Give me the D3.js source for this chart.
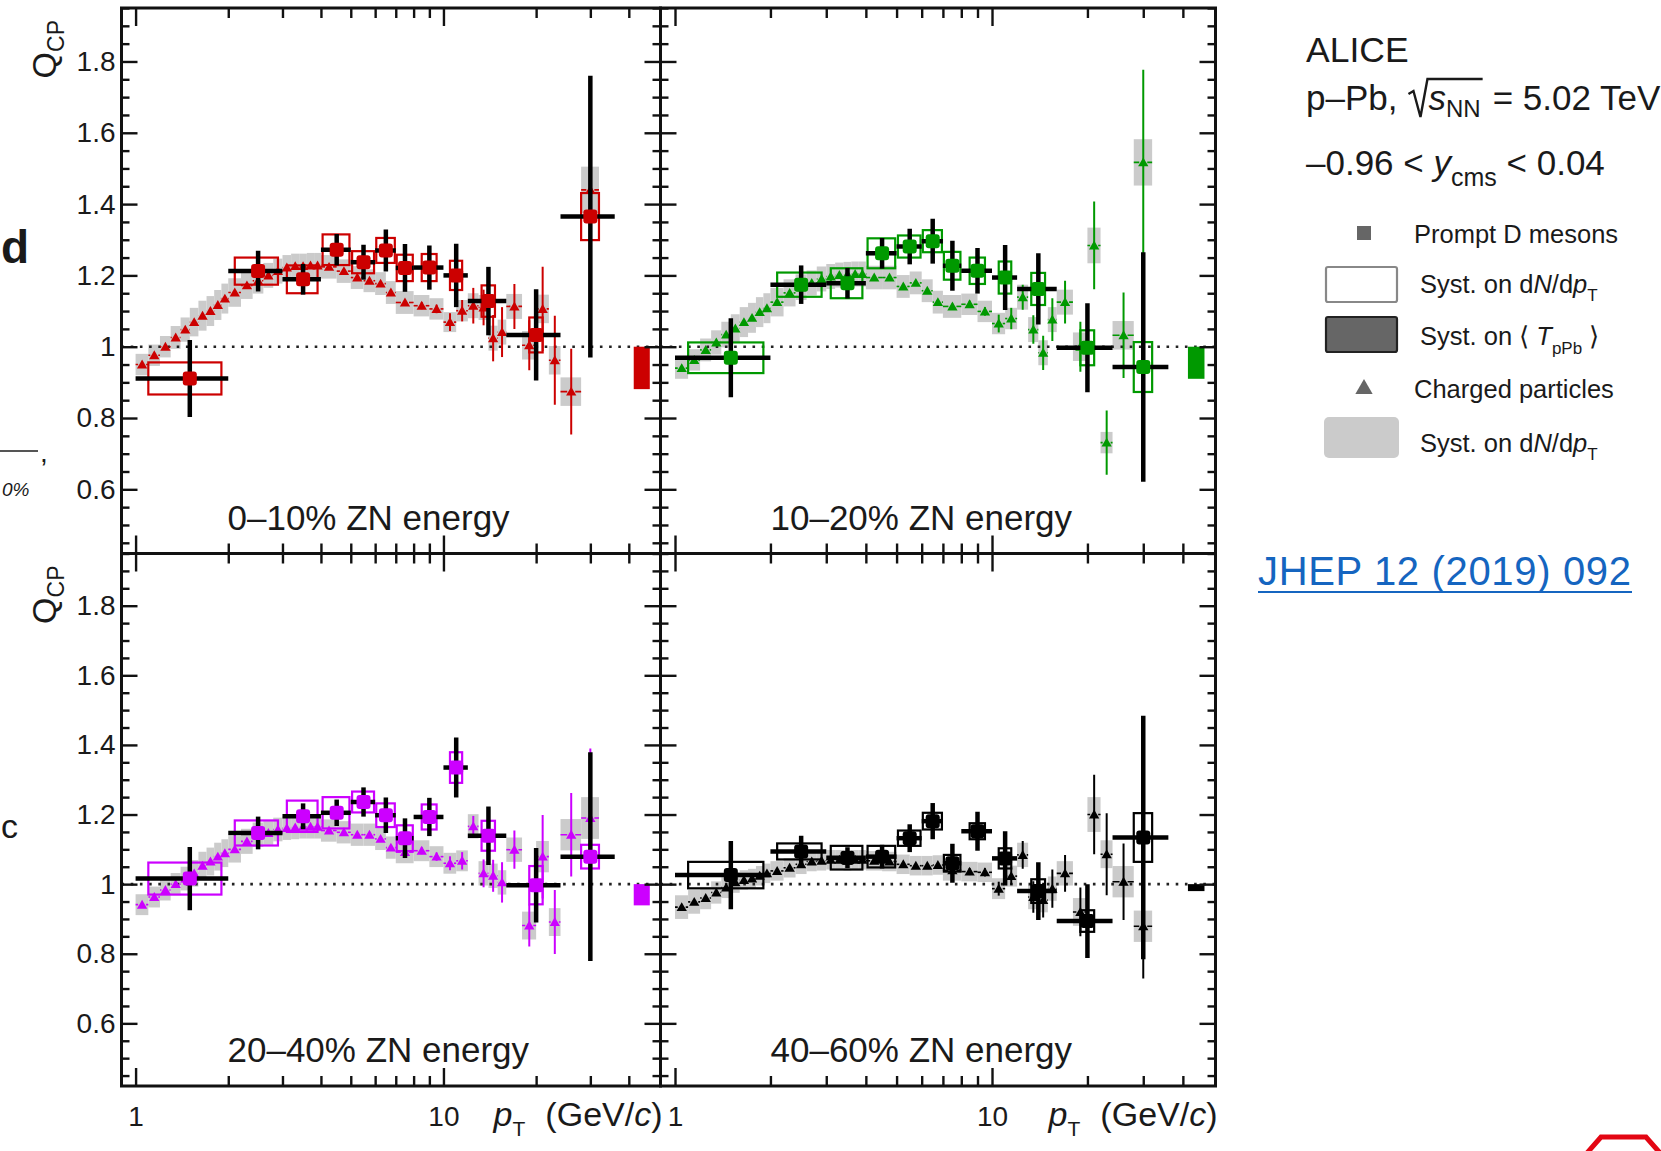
<!DOCTYPE html>
<html>
<head>
<meta charset="utf-8">
<script src="https://cdn.jsdelivr.net/npm/d3@7"></script>
<style>
body { margin: 0; background: #fff; }
svg text { font-family: "Liberation Sans", Arial, Helvetica, sans-serif; fill: #1a1a1a; }
</style>
</head>
<body>
<svg id="chart" width="1661" height="1151"></svg>
<script>
// prompt D meson pT bins (GeV/c)
var dPt   = [1.5, 2.5, 3.5, 4.5, 5.5, 6.5, 7.5, 9, 11, 14, 20, 30];
var dLow  = [1, 2, 3, 4, 5, 6, 7, 8, 10, 12, 16, 24];
var dHigh = [2, 3, 4, 5, 6, 7, 8, 10, 12, 16, 24, 36];
var dBoxHalf = [0.4, 0.4, 0.4, 0.45, 0.45, 0.45, 0.45, 0.5, 0.5, 0.7, 1, 2];

// charged particle pT bins (GeV/c)
var chPt   = [1.05, 1.15, 1.25, 1.35, 1.45, 1.55, 1.65, 1.75, 1.85, 1.95, 2.1, 2.3, 2.5, 2.7, 2.9, 3.1, 3.3, 3.5, 3.7, 3.9,
              4.25, 4.75, 5.25, 5.75, 6.25, 6.75, 7.5, 8.5, 9.5, 10.5, 11.5, 12.5, 13.5, 14.5, 15.5, 17, 19, 21, 23, 26, 30];
var chLow  = [1.0, 1.1, 1.2, 1.3, 1.4, 1.5, 1.6, 1.7, 1.8, 1.9, 2.0, 2.2, 2.4, 2.6, 2.8, 3.0, 3.2, 3.4, 3.6, 3.8,
              4.0, 4.5, 5.0, 5.5, 6.0, 6.5, 7, 8, 9, 10, 11, 12, 13, 14, 15, 16, 18, 20, 22, 24, 28];
var chHigh = [1.1, 1.2, 1.3, 1.4, 1.5, 1.6, 1.7, 1.8, 1.9, 2.0, 2.2, 2.4, 2.6, 2.8, 3.0, 3.2, 3.4, 3.6, 3.8, 4.0,
              4.5, 5.0, 5.5, 6.0, 6.5, 7, 8, 9, 10, 11, 12, 13, 14, 15, 16, 18, 20, 22, 24, 28, 32];

// 0-10%
var d010     = [0.911, 1.212, 1.189, 1.272, 1.237, 1.270, 1.221, 1.222, 1.200, 1.128, 1.033, 1.365];
var d010Stat = [0.108, 0.057, 0.043, 0.044, 0.049, 0.059, 0.067, 0.062, 0.089, 0.096, 0.128, 0.395];
var d010Syst = [0.045, 0.038, 0.039, 0.043, 0.031, 0.035, 0.037, 0.038, 0.041, 0.044, 0.049, 0.066];
var ch010    = [0.950, 0.976, 1.000, 1.026, 1.048, 1.069, 1.087, 1.100, 1.117, 1.135, 1.152, 1.172, 1.185, 1.200, 1.212, 1.222, 1.226, 1.226, 1.228, 1.228,
                1.224, 1.212, 1.194, 1.185, 1.177, 1.152, 1.124, 1.115, 1.106, 1.069, 1.101, 1.115, 1.110, 1.024, 1.041, 1.113, 1.004, 1.106, 0.962, 0.874, 1.440];
var ch010Err = [0.004, 0.004, 0.004, 0.004, 0.004, 0.004, 0.004, 0.004, 0.004, 0.004, 0.004, 0.004, 0.004, 0.004, 0.004, 0.004, 0.004, 0.004, 0.004, 0.004,
                0.006, 0.006, 0.006, 0.006, 0.006, 0.006, 0.008, 0.010, 0.012, 0.025, 0.030, 0.050, 0.050, 0.065, 0.070, 0.063, 0.070, 0.118, 0.125, 0.120, 0.300];
var ch010Syst = [0.030, 0.030, 0.030, 0.032, 0.034, 0.040, 0.042, 0.042, 0.042, 0.042, 0.040, 0.038, 0.036, 0.035, 0.035, 0.035, 0.035, 0.035, 0.035, 0.035,
                 0.033, 0.033, 0.032, 0.032, 0.032, 0.032, 0.032, 0.030, 0.030, 0.028, 0.030, 0.035, 0.035, 0.035, 0.035, 0.035, 0.040, 0.040, 0.040, 0.040, 0.065];

// 10-20%
var d1020     = [0.969, 1.174, 1.178, 1.262, 1.281, 1.296, 1.227, 1.213, 1.194, 1.162, 0.997, 0.943];
var d1020Stat = [0.111, 0.054, 0.043, 0.043, 0.050, 0.063, 0.070, 0.064, 0.091, 0.100, 0.125, 0.322];
var d1020Syst = [0.043, 0.034, 0.042, 0.042, 0.031, 0.031, 0.039, 0.037, 0.045, 0.045, 0.049, 0.070];
var ch1020    = [0.940, 0.963, 0.991, 1.012, 1.034, 1.051, 1.069, 1.081, 1.097, 1.108, 1.125, 1.151, 1.167, 1.179, 1.190, 1.197, 1.201, 1.203, 1.204, 1.204,
                 1.194, 1.194, 1.169, 1.179, 1.157, 1.125, 1.113, 1.119, 1.099, 1.065, 1.079, 1.139, 1.048, 0.983, 1.076, 1.125, 1.000, 1.284, 0.731, 1.032, 1.517];
var ch1020Err = [0.004, 0.004, 0.004, 0.004, 0.004, 0.004, 0.004, 0.004, 0.004, 0.004, 0.004, 0.004, 0.004, 0.004, 0.004, 0.004, 0.004, 0.004, 0.004, 0.004,
                 0.006, 0.006, 0.006, 0.006, 0.006, 0.006, 0.008, 0.010, 0.012, 0.025, 0.030, 0.035, 0.040, 0.048, 0.060, 0.060, 0.070, 0.123, 0.090, 0.120, 0.260];
var ch1020Syst = [0.030, 0.030, 0.032, 0.034, 0.036, 0.040, 0.042, 0.042, 0.042, 0.042, 0.040, 0.038, 0.036, 0.035, 0.035, 0.035, 0.035, 0.035, 0.035, 0.035,
                  0.033, 0.033, 0.032, 0.032, 0.032, 0.032, 0.032, 0.030, 0.030, 0.030, 0.030, 0.035, 0.035, 0.035, 0.035, 0.035, 0.040, 0.050, 0.030, 0.040, 0.065];

// 20-40%
var d2040     = [1.016, 1.147, 1.195, 1.205, 1.236, 1.198, 1.132, 1.193, 1.335, 1.139, 0.997, 1.079];
var d2040Stat = [0.091, 0.047, 0.037, 0.038, 0.042, 0.051, 0.057, 0.055, 0.086, 0.084, 0.107, 0.300];
var d2040Syst = [0.046, 0.036, 0.045, 0.045, 0.030, 0.034, 0.037, 0.036, 0.044, 0.043, 0.055, 0.034];
var ch2040    = [0.941, 0.963, 0.983, 1.000, 1.016, 1.031, 1.053, 1.065, 1.079, 1.089, 1.100, 1.123, 1.142, 1.147, 1.157, 1.161, 1.163, 1.165, 1.165, 1.165,
                 1.154, 1.149, 1.142, 1.142, 1.130, 1.105, 1.092, 1.096, 1.079, 1.060, 1.067, 1.166, 1.031, 1.024, 1.005, 1.099, 0.881, 1.079, 0.891, 1.142, 1.190];
var ch2040Err = [0.004, 0.004, 0.004, 0.004, 0.004, 0.004, 0.004, 0.004, 0.004, 0.004, 0.004, 0.004, 0.004, 0.004, 0.004, 0.004, 0.004, 0.004, 0.004, 0.004,
                 0.006, 0.006, 0.006, 0.006, 0.006, 0.006, 0.008, 0.010, 0.012, 0.020, 0.025, 0.030, 0.040, 0.046, 0.058, 0.055, 0.060, 0.120, 0.092, 0.120, 0.200];
var ch2040Syst = [0.030, 0.030, 0.030, 0.032, 0.034, 0.038, 0.040, 0.040, 0.040, 0.040, 0.038, 0.036, 0.035, 0.034, 0.034, 0.034, 0.034, 0.034, 0.034, 0.034,
                  0.032, 0.032, 0.032, 0.032, 0.032, 0.032, 0.032, 0.030, 0.030, 0.030, 0.030, 0.035, 0.035, 0.035, 0.035, 0.035, 0.040, 0.045, 0.040, 0.045, 0.060];

// 40-60%
var d4060     = [1.026, 1.094, 1.076, 1.079, 1.132, 1.181, 1.060, 1.152, 1.074, 0.980, 0.894, 1.134];
var d4060Stat = [0.098, 0.045, 0.030, 0.034, 0.040, 0.052, 0.056, 0.056, 0.078, 0.083, 0.106, 0.350];
var d4060Syst = [0.038, 0.023, 0.034, 0.031, 0.022, 0.024, 0.024, 0.023, 0.029, 0.034, 0.031, 0.070];
var ch4060    = [0.934, 0.949, 0.960, 0.976, 0.990, 1.005, 1.012, 1.016, 1.024, 1.031, 1.038, 1.047, 1.057, 1.065, 1.067, 1.070, 1.070, 1.067, 1.070, 1.070,
                 1.067, 1.065, 1.057, 1.053, 1.053, 1.055, 1.040, 1.036, 1.034, 0.987, 1.023, 1.084, 0.963, 0.954, 0.987, 1.031, 0.920, 1.200, 1.086, 1.007, 0.879];
var ch4060Err = [0.004, 0.004, 0.004, 0.004, 0.004, 0.004, 0.004, 0.004, 0.004, 0.004, 0.004, 0.004, 0.004, 0.004, 0.004, 0.004, 0.004, 0.004, 0.004, 0.004,
                 0.006, 0.006, 0.006, 0.006, 0.006, 0.006, 0.008, 0.010, 0.012, 0.020, 0.025, 0.040, 0.045, 0.050, 0.055, 0.053, 0.070, 0.114, 0.118, 0.110, 0.150];
var ch4060Syst = [0.034, 0.034, 0.032, 0.032, 0.030, 0.030, 0.028, 0.028, 0.028, 0.028, 0.028, 0.028, 0.028, 0.028, 0.028, 0.028, 0.028, 0.028, 0.028, 0.028,
                  0.028, 0.028, 0.028, 0.028, 0.028, 0.028, 0.030, 0.028, 0.028, 0.030, 0.030, 0.035, 0.035, 0.035, 0.035, 0.035, 0.040, 0.050, 0.040, 0.045, 0.045];

// normalisation (<T_pPb>) uncertainty boxes, one per panel
var normLow  = [0.881, 0.910, 0.939, 0.980];
var normHigh = [1.0, 1.0, 1.0, 1.0];

var panelLabels = ["0–10% ZN energy", "10–20% ZN energy", "20–40% ZN energy", "40–60% ZN energy"];
var panelColors = ["#cc0000", "#009900", "#cc00ff", "#000000"];

var yMajor = [0.6, 0.8, 1.0, 1.2, 1.4, 1.6, 1.8];
var xMajor = [1, 10];
var xMinor = [2, 3, 4, 5, 6, 7, 8, 9, 20, 30, 40];

var panels = [
  {col: 0, row: 0, d: d010, dStat: d010Stat, dSyst: d010Syst, ch: ch010, chErr: ch010Err, chSyst: ch010Syst},
  {col: 1, row: 0, d: d1020, dStat: d1020Stat, dSyst: d1020Syst, ch: ch1020, chErr: ch1020Err, chSyst: ch1020Syst},
  {col: 0, row: 1, d: d2040, dStat: d2040Stat, dSyst: d2040Syst, ch: ch2040, chErr: ch2040Err, chSyst: ch2040Syst},
  {col: 1, row: 1, d: d4060, dStat: d4060Stat, dSyst: d4060Syst, ch: ch4060, chErr: ch4060Err, chSyst: ch4060Syst}
];
panels.forEach(function(p, i){
  p.label = panelLabels[i]; p.color = panelColors[i];
  p.normLo = normLow[i]; p.normHi = normHigh[i];
});

var svg = d3.select("#chart");
var colX = [121.5, 660.5, 1215.5];
var rowY = [8, 553.5, 1086];
var xDomain = [0.9, 50.7], yDomain = [0.42, 1.95];
var normX = [41.5, 46.8];
var yMinor = d3.range(9, 40).map(function(i){ return i * 0.05; })
  .filter(function(v){ return Math.abs(v * 5 - Math.round(v * 5)) > 1e-6; });

function fmtY(v){ return Math.abs(v - 1) < 1e-9 ? "1" : d3.format(".1f")(v); }

function styleAxis(a){
  a.select(".domain").remove();
  a.selectAll(".tick line").attr("stroke", "#111").attr("stroke-width", 2.4);
  a.selectAll(".tick text").attr("font-size", 28).attr("fill", "#1a1a1a");
  a.attr("font-family", null);
}

var drawPanel = function(p){
  var x0 = colX[p.col], w = colX[p.col + 1] - x0;
  var y0 = rowY[p.row], h = rowY[p.row + 1] - y0;
  var x = d3.scaleLog().domain(xDomain).range([0, w]);
  var y = d3.scaleLinear().domain(yDomain).range([h, 0]);

  var g = svg.append("g").attr("transform", "translate(" + x0 + "," + y0 + ")");
  var clipId = "clip" + p.col + p.row;
  g.append("clipPath").attr("id", clipId).append("rect").attr("width", w).attr("height", h);
  var plot = g.append("g").attr("clip-path", "url(#" + clipId + ")");

  var ch = chPt.map(function(v, i){
    return {pt: v, lo: chLow[i], hi: chHigh[i], val: p.ch[i], err: p.chErr[i], syst: p.chSyst[i]};
  });
  var dm = dPt.map(function(v, i){
    return {pt: v, lo: dLow[i], hi: dHigh[i], half: dBoxHalf[i], val: p.d[i], stat: p.dStat[i], syst: p.dSyst[i]};
  });

  // grey syst bands of charged particles
  plot.selectAll(".chsyst").data(ch).enter().append("rect")
    .attr("x", function(d){ return x(d.lo); })
    .attr("width", function(d){ return x(d.hi) - x(d.lo); })
    .attr("y", function(d){ return y(d.val + d.syst); })
    .attr("height", function(d){ return y(d.val - d.syst) - y(d.val + d.syst); })
    .attr("fill", "#cbcbcb");

  // Q_CP = 1
  plot.append("line").attr("x1", 0).attr("x2", w).attr("y1", y(1)).attr("y2", y(1))
    .attr("stroke", "#222").attr("stroke-width", 2.6).attr("stroke-dasharray", "2.6,6.6");

  // normalisation box
  plot.append("rect")
    .attr("x", x(normX[0])).attr("width", x(normX[1]) - x(normX[0]))
    .attr("y", y(p.normHi)).attr("height", y(p.normLo) - y(p.normHi))
    .attr("fill", p.color);

  // D meson syst boxes
  plot.selectAll(".dsyst").data(dm).enter().append("rect")
    .attr("x", function(d){ return x(d.pt - d.half); })
    .attr("width", function(d){ return x(d.pt + d.half) - x(d.pt - d.half); })
    .attr("y", function(d){ return y(d.val + d.syst); })
    .attr("height", function(d){ return y(d.val - d.syst) - y(d.val + d.syst); })
    .attr("fill", "none").attr("stroke", p.color).attr("stroke-width", 2.2);

  // charged particles: bin width bars, stat errors, triangles
  var chg = plot.selectAll(".ch").data(ch).enter().append("g");
  chg.append("line")
    .attr("x1", function(d){ return x(d.lo); }).attr("x2", function(d){ return x(d.pt) - 4; })
    .attr("y1", function(d){ return y(d.val); }).attr("y2", function(d){ return y(d.val); })
    .attr("stroke", p.color).attr("stroke-width", 1.6);
  chg.append("line")
    .attr("x1", function(d){ return x(d.pt) + 4; }).attr("x2", function(d){ return x(d.hi); })
    .attr("y1", function(d){ return y(d.val); }).attr("y2", function(d){ return y(d.val); })
    .attr("stroke", p.color).attr("stroke-width", 1.6);
  chg.append("line")
    .attr("x1", function(d){ return x(d.pt); }).attr("x2", function(d){ return x(d.pt); })
    .attr("y1", function(d){ return y(d.val + d.err); }).attr("y2", function(d){ return y(d.val - d.err); })
    .attr("stroke", p.color).attr("stroke-width", 2);
  chg.append("path")
    .attr("d", d3.symbol(d3.symbolTriangle).size(46))
    .attr("transform", function(d){ return "translate(" + x(d.pt) + "," + (y(d.val) + 1) + ")"; })
    .attr("fill", p.color);

  // D meson stat errors (black crosses)
  var dg = plot.selectAll(".dm").data(dm).enter().append("g");
  dg.append("line")
    .attr("x1", function(d){ return x(d.lo); }).attr("x2", function(d){ return x(d.hi); })
    .attr("y1", function(d){ return y(d.val); }).attr("y2", function(d){ return y(d.val); })
    .attr("stroke", "#000").attr("stroke-width", 4.5);
  dg.append("line")
    .attr("x1", function(d){ return x(d.pt); }).attr("x2", function(d){ return x(d.pt); })
    .attr("y1", function(d){ return y(d.val + d.stat); }).attr("y2", function(d){ return y(d.val - d.stat); })
    .attr("stroke", "#000").attr("stroke-width", 4.5);
  dg.append("rect")
    .attr("x", function(d){ return x(d.pt) - 7; }).attr("y", function(d){ return y(d.val) - 7; })
    .attr("width", 14).attr("height", 14).attr("rx", 3)
    .attr("fill", p.color);

  // axes, ticks pointing inside on all four sides
  var left = g.append("g").call(d3.axisLeft(y).tickValues(yMajor).tickSize(-16).tickPadding(6)
    .tickFormat(p.col === 0 ? fmtY : ""));
  styleAxis(left);
  styleAxis(g.append("g").call(d3.axisLeft(y).tickValues(yMinor).tickSize(-8).tickFormat("")));
  styleAxis(g.append("g").attr("transform", "translate(" + w + ",0)")
    .call(d3.axisRight(y).tickValues(yMajor).tickSize(-16).tickFormat("")));
  styleAxis(g.append("g").attr("transform", "translate(" + w + ",0)")
    .call(d3.axisRight(y).tickValues(yMinor).tickSize(-8).tickFormat("")));
  var bottom = g.append("g").attr("transform", "translate(0," + h + ")")
    .call(d3.axisBottom(x).tickValues(xMajor).tickSize(-18).tickPadding(20)
      .tickFormat(p.row === 1 ? d3.format("d") : ""));
  styleAxis(bottom);
  styleAxis(g.append("g").attr("transform", "translate(0," + h + ")")
    .call(d3.axisBottom(x).tickValues(xMinor).tickSize(-10).tickFormat("")));
  styleAxis(g.append("g").call(d3.axisTop(x).tickValues(xMajor).tickSize(-18).tickFormat("")));
  styleAxis(g.append("g").call(d3.axisTop(x).tickValues(xMinor).tickSize(-10).tickFormat("")));

  g.append("rect").attr("width", w).attr("height", h)
    .attr("fill", "none").attr("stroke", "#111").attr("stroke-width", 3);

  g.append("text").attr("x", p.col === 0 ? 106 : 110).attr("y", h - 24)
    .attr("font-size", 35).text(p.label);

  // axis titles
  if (p.col === 0) {
    var q = svg.append("text").attr("text-anchor", "end").attr("font-size", 34)
      .attr("transform", "translate(56," + (y0 + 12) + ") rotate(-90)");
    q.append("tspan").text("Q");
    q.append("tspan").attr("font-size", 23).attr("dy", 8).text("CP");
  }
  if (p.row === 1) {
    var t = svg.append("text").attr("text-anchor", "end").attr("font-size", 34)
      .attr("x", x0 + w + 2).attr("y", y0 + h + 40);
    t.append("tspan").attr("font-style", "italic").text("p");
    t.append("tspan").attr("font-size", 21).attr("dy", 10).text("T");
    t.append("tspan").attr("dy", -10).attr("dx", 20).text("(GeV/");
    t.append("tspan").attr("font-style", "italic").text("c");
    t.append("tspan").text(")");
  }
};

panels.forEach(drawPanel);

// ---- text block and legend on the right ----
var lx = 1306;
svg.append("text").attr("x", lx).attr("y", 62).attr("font-size", 35.5).text("ALICE");

var l2 = svg.append("text").attr("x", lx).attr("y", 110).attr("font-size", 35).text("p–Pb,");
var w2 = l2.node().getComputedTextLength();
var rx0 = lx + w2 + 11;
var sText = svg.append("text").attr("x", rx0 + 20).attr("y", 110).attr("font-size", 35);
sText.append("tspan").attr("font-style", "italic").text("s");
sText.append("tspan").attr("font-size", 24).attr("dy", 7).text("NN");
var sw = sText.node().getComputedTextLength();
svg.append("path")
  .attr("d", "M" + rx0 + "," + 94 + " L" + (rx0 + 5) + "," + 91 + " L" + (rx0 + 12) + "," + 117 +
    " L" + (rx0 + 19) + "," + 79 + " L" + (rx0 + 22 + sw) + "," + 79)
  .attr("fill", "none").attr("stroke", "#1a1a1a").attr("stroke-width", 2.4);
svg.append("text").attr("x", rx0 + 32 + sw).attr("y", 110).attr("font-size", 35).text("= 5.02 TeV");

var l3 = svg.append("text").attr("x", lx).attr("y", 175).attr("font-size", 35);
l3.append("tspan").text("–0.96 < ");
l3.append("tspan").attr("font-style", "italic").text("y");
l3.append("tspan").attr("font-size", 25).attr("dy", 11).text("cms");
l3.append("tspan").attr("dy", -11).text(" < 0.04");

var legFont = 25.5;
svg.append("rect").attr("x", 1357).attr("y", 226).attr("width", 14).attr("height", 14).attr("fill", "#666");
svg.append("text").attr("x", 1414).attr("y", 243).attr("font-size", legFont).attr("fill", "#333").text("Prompt D mesons");

svg.append("rect").attr("x", 1326).attr("y", 267).attr("width", 71).attr("height", 35).attr("rx", 2)
  .attr("fill", "#fff").attr("stroke", "#888").attr("stroke-width", 2.2);
var s1 = svg.append("text").attr("x", 1420).attr("y", 293).attr("font-size", legFont);
s1.append("tspan").text("Syst. on d");
s1.append("tspan").attr("font-style", "italic").text("N");
s1.append("tspan").text("/d");
s1.append("tspan").attr("font-style", "italic").text("p");
s1.append("tspan").attr("font-size", 17).attr("dy", 8).text("T");

svg.append("rect").attr("x", 1326).attr("y", 317).attr("width", 71).attr("height", 35).attr("rx", 2)
  .attr("fill", "#666").attr("stroke", "#222").attr("stroke-width", 2.2);
var s2 = svg.append("text").attr("x", 1420).attr("y", 345).attr("font-size", legFont);
s2.append("tspan").text("Syst. on ⟨ ");
s2.append("tspan").attr("font-style", "italic").text("T");
s2.append("tspan").attr("font-size", 17).attr("dy", 9).text("pPb");
s2.append("tspan").attr("dy", -9).text(" ⟩");

svg.append("path").attr("d", d3.symbol(d3.symbolTriangle).size(130))
  .attr("transform", "translate(1364,389)").attr("fill", "#666");
svg.append("text").attr("x", 1414).attr("y", 398).attr("font-size", legFont).attr("fill", "#333").text("Charged particles");

svg.append("rect").attr("x", 1324).attr("y", 417).attr("width", 75).attr("height", 41).attr("rx", 5)
  .attr("fill", "#cbcbcb");
var s3 = svg.append("text").attr("x", 1420).attr("y", 452).attr("font-size", legFont);
s3.append("tspan").text("Syst. on d");
s3.append("tspan").attr("font-style", "italic").text("N");
s3.append("tspan").text("/d");
s3.append("tspan").attr("font-style", "italic").text("p");
s3.append("tspan").attr("font-size", 17).attr("dy", 8).text("T");

// reference link
svg.append("text").attr("x", 1258).attr("y", 585).attr("font-size", 40)
  .attr("font-family", "Lato, 'Open Sans', sans-serif").style("fill", "#1565c0")
  .attr("textLength", 373).attr("lengthAdjust", "spacing")
  .text("JHEP 12 (2019) 092");
svg.append("line").attr("x1", 1258).attr("x2", 1632).attr("y1", 592).attr("y2", 592)
  .attr("stroke", "#1565c0").attr("stroke-width", 2);

// bits of slide text at the left edge
svg.append("text").attr("x", 1).attr("y", 263)
  .attr("font-size", 46).attr("font-weight", "bold").text("d");
svg.append("line").attr("x1", 0).attr("x2", 38).attr("y1", 451).attr("y2", 451)
  .attr("stroke", "#555").attr("stroke-width", 2);
svg.append("text").attr("x", 40).attr("y", 462).attr("font-size", 28).attr("fill", "#555").text(",");
svg.append("text").attr("x", 2).attr("y", 496)
  .attr("font-size", 19).attr("font-style", "italic").attr("fill", "#555").text("0%");
svg.append("text").attr("x", 1).attr("y", 838)
  .attr("font-size", 34).text("c");

// logo corner, bottom right
svg.append("path").attr("d", "M1587,1153 L1601,1137 L1646,1137 L1660,1153")
  .attr("fill", "#fff").attr("stroke", "#e30613").attr("stroke-width", 5);
</script>
</body>
</html>
